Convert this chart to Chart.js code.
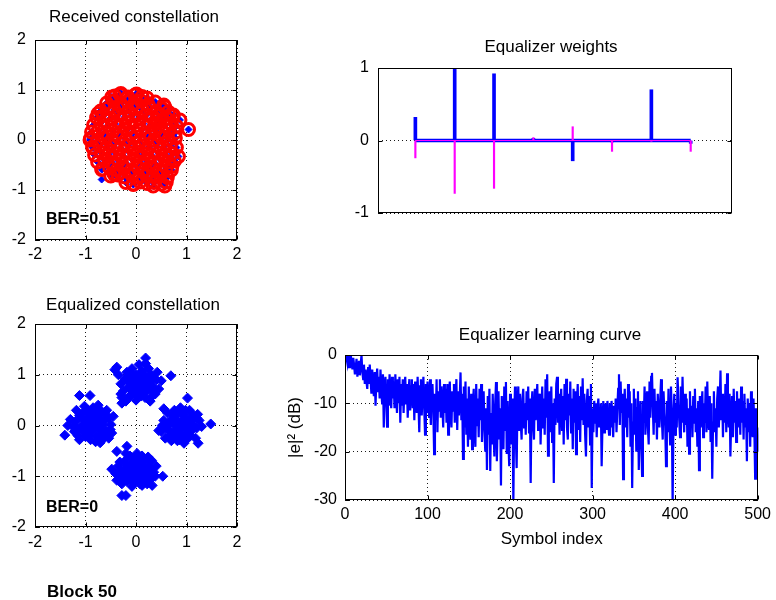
<!DOCTYPE html>
<html><head><meta charset="utf-8">
<script src="https://cdn.jsdelivr.net/npm/chart.js@4.4.1/dist/chart.umd.min.js"></script>
<style>html,body{margin:0;padding:0;background:#fff;}canvas{position:absolute;left:0;top:0;}</style>
</head><body>
<canvas id="c1" width="776" height="600"></canvas>
<canvas id="c2" width="776" height="600"></canvas>
<canvas id="c3" width="776" height="600"></canvas>
<canvas id="c4" width="776" height="600"></canvas>
<script>
// ---------------- DATA ----------------
const titleReceived = 'Received constellation';
const titleEqualized = 'Equalized constellation';
const titleWeights = 'Equalizer weights';
const titleCurve = 'Equalizer learning curve';
const berReceived = 'BER=0.51';
const berEqualized = 'BER=0';
const blockLabel = 'Block 50';
const xLabelCurve = 'Symbol index';
const yLabelCurve = '|e|\u00B2 (dB)';

const constTicks = [-2, -1, 0, 1, 2];
const weightTicks = [-1, 0, 1];
const curveXTicks = [0, 100, 200, 300, 400, 500];
const curveYTicks = [-30, -20, -10, 0];

// received symbols (inner blob), all marked as errors
const rxInner = [
[-0.42,0.88],[-0.3,0.93],[-0.16,0.86],[-0.02,0.9],[0.12,0.87],[0.22,0.84],
[-0.58,0.74],[-0.44,0.78],[-0.3,0.72],[-0.17,0.77],[-0.03,0.73],[0.1,0.78],[0.24,0.71],[0.38,0.76],[0.55,0.7],
[-0.7,0.58],[-0.57,0.63],[-0.43,0.6],[-0.29,0.65],[-0.15,0.58],[0.0,0.63],[0.13,0.6],[0.27,0.64],[0.4,0.57],[0.52,0.62],[0.64,0.56],
[-0.78,0.45],[-0.64,0.49],[-0.5,0.44],[-0.36,0.5],[-0.22,0.46],[-0.08,0.48],[0.06,0.44],[0.2,0.5],[0.33,0.45],[0.47,0.49],[0.6,0.44],[0.72,0.48],
[-0.84,0.3],[-0.7,0.34],[-0.56,0.29],[-0.42,0.33],[-0.28,0.3],[-0.14,0.35],[0.0,0.29],[0.14,0.33],[0.28,0.3],[0.43,0.34],[0.57,0.29],[0.7,0.33],[0.8,0.28],
[-0.88,0.16],[-0.74,0.19],[-0.6,0.14],[-0.46,0.18],[-0.32,0.15],[-0.18,0.2],[-0.04,0.16],[0.1,0.19],[0.24,0.14],[0.38,0.18],[0.52,0.15],[0.66,0.2],[0.78,0.15],
[-0.9,0.03],[-0.76,-0.01],[-0.62,0.04],[-0.48,0.0],[-0.34,0.05],[-0.2,0.01],[-0.06,0.04],[0.08,-0.01],[0.22,0.03],[0.36,0.0],[0.5,0.05],[0.64,0.01],[0.78,0.04],
[-0.86,-0.14],[-0.72,-0.11],[-0.58,-0.15],[-0.44,-0.12],[-0.3,-0.16],[-0.16,-0.11],[-0.02,-0.14],[0.12,-0.12],[0.26,-0.15],[0.4,-0.11],[0.54,-0.14],[0.68,-0.12],[0.8,-0.15],
[-0.82,-0.3],[-0.68,-0.26],[-0.54,-0.29],[-0.4,-0.27],[-0.26,-0.31],[-0.12,-0.26],[0.02,-0.29],[0.16,-0.27],[0.3,-0.3],[0.44,-0.26],[0.58,-0.29],[0.72,-0.27],
[-0.76,-0.44],[-0.62,-0.41],[-0.48,-0.45],[-0.34,-0.42],[-0.2,-0.46],[-0.06,-0.41],[0.08,-0.44],[0.22,-0.42],[0.36,-0.45],[0.5,-0.41],[0.64,-0.44],[0.76,-0.42],
[-0.66,-0.58],[-0.52,-0.56],[-0.38,-0.6],[-0.24,-0.57],[-0.1,-0.61],[0.04,-0.56],[0.18,-0.59],[0.32,-0.57],[0.46,-0.6],[0.6,-0.56],[0.7,-0.6],
[-0.5,-0.72],[-0.36,-0.7],[-0.22,-0.74],[-0.08,-0.71],[0.06,-0.75],[0.2,-0.7],[0.34,-0.73],[0.48,-0.71],[0.62,-0.75],
[-0.2,-0.85],[-0.06,-0.88],[0.08,-0.84],[0.22,-0.87],[0.36,-0.85],[0.5,-0.88],[0.6,-0.84]
];
// received symbols on the rim of the blob, marked as errors
const rxEdge = [
[1.04,0.21],[0.87,0.4],[0.74,0.5],[0.57,0.66],[-0.91,0.0],[-0.85,-0.16],[-0.68,-0.59],[-0.43,-0.69],
[0.34,-0.92],[0.57,-0.92],[-0.05,-0.89],[0.84,-0.33],[0.71,-0.53],[-0.48,0.86],[-0.75,0.53],[0.01,0.92],
[0.41,0.4],[0.38,0.2],[-0.32,0.91]
];
// received symbols without error mark
const rxCorrect = [[-0.68,-0.79]];

// equalized symbols, one list per cluster
const eqTop = [
[0.05,0.85],[-0.1,0.9],[0.15,0.78],[0.0,1.0],[0.2,0.95],[-0.15,0.75],[0.1,0.68],[-0.05,0.8],[0.28,0.85],[-0.22,0.92],
[0.12,1.08],[-0.08,1.12],[0.35,0.75],[0.3,1.0],[-0.25,0.68],[0.02,0.6],[0.18,0.55],[-0.12,0.58],[0.4,0.9],[-0.3,0.82],
[0.08,0.92],[-0.02,0.72],[0.22,0.7],[0.25,1.12],[-0.18,1.05],[0.45,0.72],[-0.35,1.0],[0.38,0.62],[0.06,1.2],[-0.28,0.55],
[0.14,0.82],[-0.06,0.97],[0.32,0.58],[0.19,1.22],[-0.38,1.15],[0.5,0.88],[-0.2,0.48],[0.0,0.5],[0.28,0.48],[0.1,0.74],
[-0.12,0.84],[0.2,0.88],[-0.03,0.66],[0.42,1.05],[-0.3,0.62],[0.35,0.95],[0.16,0.64],[0.08,1.02],[-0.15,0.98],[0.26,0.78],
[0.03,0.88],[0.12,0.95],[-0.08,0.7],[0.18,0.75],[-0.02,0.82],[0.24,0.92],[0.06,0.76],[-0.16,0.88],[0.3,0.7],[0.1,0.58],
[-0.1,1.04],[0.16,1.0],
[0.19,1.33],[0.69,0.98],[-0.42,1.1],[-0.28,0.44]
];
const eqLeft = [
[-0.88,0.04],[-1.0,0.1],[-0.75,-0.02],[-0.92,0.2],[-0.8,0.18],[-1.1,-0.05],[-0.65,0.1],[-0.95,-0.15],[-0.78,-0.2],[-1.05,0.25],
[-0.7,0.3],[-1.2,0.08],[-0.6,-0.1],[-0.85,0.35],[-1.15,-0.2],[-0.55,0.15],[-0.9,-0.28],[-1.25,-0.02],[-0.68,-0.25],[-1.02,0.38],
[-0.5,0.02],[-0.82,0.08],[-0.98,-0.05],[-0.72,0.12],[-1.08,0.15],[-0.62,-0.18],[-0.88,-0.12],[-1.3,0.12],[-0.75,0.4],[-1.12,-0.28],
[-0.58,0.3],[-0.95,0.3],[-0.48,-0.15],[-1.18,0.3],[-0.8,-0.32],[-0.66,0.02],[-1.0,-0.22],[-0.92,0.12],[-0.54,-0.25],[-1.22,-0.12],
[-0.85,0.25],[-0.7,-0.1],[-1.05,0.02],[-0.6,0.22],[-0.78,0.06],
[-0.9,0.0],[-0.82,-0.05],[-0.96,0.05],[-0.86,0.16],[-1.04,-0.12],[-0.74,0.2],[-0.92,-0.2],[-1.12,0.2],[-0.68,-0.16],[-0.62,0.12],
[-1.18,-0.04],[-0.8,0.28],
[-1.12,0.59],[-0.91,0.59],[-1.41,-0.19],[-0.45,0.18],[-0.51,-0.08],[-0.71,-0.34],[-0.65,-0.26],[-1.35,0.0]
];
const eqRight = [
[0.92,-0.02],[1.05,0.05],[0.8,0.1],[0.95,0.18],[1.1,-0.1],[0.75,-0.12],[0.88,-0.22],[1.0,-0.28],[0.68,0.05],[1.15,0.15],
[0.85,0.28],[1.2,-0.05],[0.6,-0.05],[0.98,0.3],[0.72,0.22],[1.08,-0.2],[0.82,-0.3],[0.55,0.1],[1.25,0.1],[0.65,-0.2],
[0.9,0.08],[1.02,-0.08],[0.78,0.0],[1.12,0.22],[0.7,-0.3],[0.95,-0.35],[0.5,-0.12],[1.18,-0.25],[0.88,0.35],[0.62,0.25],
[1.3,-0.02],[0.84,-0.12],[1.0,0.12],[0.74,-0.22],[1.06,0.3],[0.58,-0.25],[0.96,-0.18],[1.15,0.0],[0.8,0.2],[0.66,-0.1],
[1.22,0.22],[0.9,-0.25],[0.52,0.0],[1.04,-0.15],[0.76,0.3],
[0.9,0.02],[0.98,-0.05],[0.84,0.05],[1.06,0.12],[0.94,0.22],[0.78,-0.18],[1.12,-0.02],[0.7,0.12],[0.86,-0.28],[1.04,-0.22],
[0.62,0.0],[1.2,0.15],
[1.48,0.03],[1.23,-0.35],[1.02,0.54],[0.55,0.33],[0.45,-0.1]
];
const eqBottom = [
[-0.02,-0.9],[0.1,-0.85],[-0.15,-0.95],[0.05,-1.05],[-0.1,-0.78],[0.2,-0.98],[-0.25,-0.88],[0.15,-0.72],[-0.05,-0.65],[0.25,-0.85],
[-0.3,-1.02],[0.08,-1.15],[-0.18,-1.1],[0.3,-1.05],[0.0,-0.78],[-0.35,-0.8],[0.35,-0.92],[-0.12,-0.6],[0.12,-0.6],[-0.22,-0.7],
[0.22,-1.15],[-0.08,-1.2],[0.4,-0.8],[-0.4,-0.95],[0.05,-0.95],[-0.05,-1.0],[0.15,-1.05],[-0.28,-1.15],[0.28,-0.7],[-0.15,-0.85],
[0.18,-0.9],[-0.02,-1.12],[0.1,-0.75],[-0.32,-0.72],[0.38,-1.0],[-0.2,-0.55],[0.02,-0.55],[0.32,-1.18],[-0.12,-1.02],[0.25,-0.8],
[-0.38,-1.08],[0.08,-0.88],[-0.05,-0.72],[0.12,-1.18],[-0.25,-0.98],
[0.0,-0.85],[0.08,-0.95],[-0.08,-0.9],[0.14,-0.8],[-0.18,-0.78],[0.2,-1.1],[-0.1,-1.08],[0.3,-0.9],[-0.3,-0.9],[0.02,-0.68],
[-0.22,-1.05],[0.24,-0.62],
[0.53,-1.0],[-0.28,-1.38],[-0.2,-1.38],[-0.48,-0.86],[-0.38,-0.51],[-0.18,-0.41],[0.31,-0.69]
];

// equalizer taps
const tapIndex = [1, 2, 3, 4, 5, 6, 7, 8];
const weightReal = [0.32, 1.0, 0.92, 0.03, -0.28, -0.02, 0.70, -0.04];
const weightImag = [-0.24, -0.73, -0.66, 0.04, 0.19, -0.15, -0.01, -0.15];

// learning curve |e|^2 in dB, symbols 1..501
const errorDb = [
0,-0.8,-1.8,-0.2,-2.5,-1,0,-1.5,-3,-0.6,-2,-4,-2.5,-0.8,-4.5,-3,-1.2,-4.2,-2,0,
-3.5,-5,-2,-6,-3,-5.5,-7,-2.5,-6,-2,-5,-8,-3,-6.5,-8.5,-3.5,-10.5,-5,-2.8,-7.5,
-4.5,-9,-3,-7.5,-10,-4,-15,-6.5,-4.5,-9.5,-14.8,-5,-10.5,-4,-8,-11,-4.5,-9,-5.5,-11,
-4,-8.5,-12,-5,-10,-4.5,-14,-6,-10.5,-5,-12,-7,-4.5,-10,-6,-13,-7.5,-5,-11.5,-6.5,
-5,-11,-6,-13.5,-5.5,-9.5,-12,-4.5,-10,-16,-6.5,-5,-12.5,-7.5,-4.5,-11,-16.5,-6,-12,-5.5,
-10,-13,-5,-14.5,-7,-6,-11.5,-20.5,-8,-13.5,-5,-16,-7.5,-11.5,-5,-13,-6.5,-10.5,-15,-6,
-12,-7,-14,-6,-16.5,-8,-5.5,-12.5,-15,-7.5,-11.5,-6,-14,-8.5,-5,-15.5,-7.5,-12.5,-9,-3.6,
-13.5,-8,-21.5,-6.5,-15,-5.5,-16.5,-9,-19,-6.5,-13.5,-17.5,-8,-19.5,-10,-7,-16,-19,-6,-14.5,
-9,-17,-7,-13.5,-6,-18,-10,-7.5,-15.5,-20,-11,-23.8,-8.5,-16.5,-7,-24,-12,-18.5,-8,-15.5,
-21,-10,-5.6,-22,-14,-7.5,-17.5,-11,-27,-8.5,-16.5,-19.5,-6.5,-15.5,-5.6,-20.5,-9.5,-18,-23,-8,
-14.5,-18.5,-9,-31,-13,-6.5,-17,-23.4,-10,-6.5,-15.5,-8,-14,-17.5,-9,-7,-15,-10,-16.5,-7.5,
-13.5,-6.5,-16,-9,-26.5,-10.5,-7.5,-14.5,-17.5,-7,-13.5,-9.5,-6,-15.5,-10,-8,-18.5,-11.5,-6.5,-15,
-9,-16.5,-5,-13,-4,-20.8,-11,-7.5,-16,-6.5,-18,-10,-26.5,-9,-14.5,-6,-4.5,-14,-8,-16.5,
-10,-7,-15.5,-8.5,-18.5,-6,-13.5,-4.9,-15,-17.5,-8,-12.5,-5.5,-16,-9,-19.5,-7,-14,-7.5,-20.5,
-10.5,-6,-15.5,-8.5,-18,-6.5,-13.5,-4.8,-14.5,-8,-16.5,-21,-9.5,-7,-15,-8.5,-18.5,-6,-27.5,-11,
-16,-9.5,-14,-10,-17,-11,-9,-15,-11.5,-10,-23,-14.5,-9.5,-16,-11,-10,-15.5,-9.5,-14,-16.5,
-10,-15,-9.5,-13.5,-17,-10.5,-14,-9,-16,-11,-7,-4,-14.5,-5.5,-12,-8,-25.7,-11,-7,-15,
-9,-17,-6,-13,-7.5,-19,-10,-27.5,-14,-7,-16.5,-9,-20,-11,-7.5,-23.8,-15,-9.5,-18,-25,
-9.5,-14,-6.5,-16.5,-10,-7.5,-15,-18.5,-5.5,-13,-4.5,-3.7,-11,-16.5,-7,-14,-9.5,-17.5,-8,-13,
-15,-9,-5,-13.5,-17.5,-7.5,-12,-14.5,-23,-9.5,-16,-7,-13,-18.5,-6.5,-12,-31,-14,-8,-16.5,
-10,-15,-4.6,-9,-13.5,-17,-6.5,-14,-4.5,-12,-16,-8,-14.5,-9,-19,-11,-20.4,-7.5,-15,-10.5,
-17,-8.5,-14,-7,-16,-11,-19,-9.5,-23.8,-8.5,-15,-11,-7.5,-17,-10,-14,-6.5,-16,-5.5,-13,
-15.5,-8.5,-18,-10,-25.6,-14,-7.5,-16,-11,-19,-9,-6.5,-15,-10,-3.2,-13.5,-8,-17,-8.5,-14,
-6,-16,-3.8,-10,-15,-8,-21,-13.5,-8.5,-17,-7,-14,-9.5,-18,-7.5,-15,-11,-9,-16.5,-6.5,
-14,-9.5,-17.5,-8,-15,-11,-22,-9,-16,-10,-19,-7.5,-14.5,-17,-9,-15,-25.6,-11,-22,-15,-20
];

// ---------------- RENDERING ----------------
const FONT = "'Liberation Sans', Arial, Helvetica, sans-serif";
Chart.defaults.font.family = FONT;
Chart.defaults.font.size = 16;
Chart.defaults.color = '#000';
Chart.defaults.animation = false;
Chart.defaults.events = [];
Chart.defaults.plugins.legend.display = false;
Chart.defaults.plugins.tooltip.enabled = false;

const GRID = 'rgba(0,0,0,0.9)';
function axis(o) {
  return {
    type: 'linear', min: o.min, max: o.max, display: o.display !== false,
    afterBuildTicks(s) { if (o.ticks) s.ticks = o.ticks.map(v => ({ value: v })); },
    ticks: { padding: o.pad, autoSkip: false, maxRotation: 0, color: '#000', font: { size: 16 } },
    grid: { drawTicks: false, color: GRID, lineWidth: 1, display: o.grid !== false },
    border: { display: false, dash: [1, 3] },
    title: o.title || { display: false },
    afterFit(s) { if (o.h !== undefined) s.height = o.h; if (o.w !== undefined) s.width = o.w; }
  };
}

const framePlugin = {
  id: 'frame',
  afterDraw(chart, args, o) {
    const ctx = chart.ctx, a = chart.chartArea;
    ctx.save();
    ctx.strokeStyle = '#000'; ctx.lineWidth = 1;
    const L = Math.round(a.left) + 0.5, T = Math.round(a.top) + 0.5, R = Math.round(a.right) - 0.5, B = Math.round(a.bottom) - 0.5;
    ctx.strokeRect(L, T, R - L, B - T);
    const tl = 4;
    ctx.beginPath();
    if (o.xTicks) chart.scales.x.ticks.forEach(t => {
      const p = Math.round(chart.scales.x.getPixelForValue(t.value)) + 0.5;
      ctx.moveTo(p, B); ctx.lineTo(p, B - tl); ctx.moveTo(p, T); ctx.lineTo(p, T + tl);
    });
    if (o.yTicks) chart.scales.y.ticks.forEach(t => {
      const p = Math.round(chart.scales.y.getPixelForValue(t.value)) + 0.5;
      ctx.moveTo(L, p); ctx.lineTo(L + tl, p); ctx.moveTo(R, p); ctx.lineTo(R - tl, p);
    });
    ctx.stroke();
    (o.texts || []).forEach(t => {
      ctx.font = t.font; ctx.textAlign = t.align || 'center'; ctx.textBaseline = 'middle';
      ctx.fillStyle = '#000'; ctx.fillText(t.text, t.x, t.y);
    });
    ctx.restore();
  }
};

const toXY = arr => arr.map(p => ({ x: p[0], y: p[1] }));
const TITLE_FONT = '17px ' + FONT;
const BOLD_FONT = 'bold 16px ' + FONT;

function diamonds(data, r) {
  return { data: toXY(data), pointStyle: 'rectRot', pointRadius: r, backgroundColor: '#0000ff', borderColor: '#0000ff', borderWidth: 1, order: 2 };
}

// Chart 1: received constellation
new Chart(document.getElementById('c1'), {
  type: 'scatter',
  data: { datasets: [
    diamonds(rxInner.concat(rxEdge).concat(rxCorrect), 3.5),
    { data: toXY(rxInner.concat(rxEdge)), pointStyle: 'circle', pointRadius: 6, borderWidth: 3, borderColor: '#ff0000', backgroundColor: 'rgba(0,0,0,0)', order: 1 }
  ]},
  options: {
    responsive: false, devicePixelRatio: 1,
    layout: { autoPadding: false, padding: { left: 0, top: 40, right: 539, bottom: 330 } },
    scales: { x: axis({ min: -2, max: 2, ticks: constTicks, pad: 5, h: 30 }), y: axis({ min: -2, max: 2, ticks: constTicks, pad: 9, w: 35 }) },
    plugins: { frame: { xTicks: true, yTicks: true, texts: [
      { text: titleReceived, x: 134, y: 17, font: TITLE_FONT },
      { text: berReceived, x: 46, y: 220, font: BOLD_FONT, align: 'left' }
    ]}}
  },
  plugins: [framePlugin]
});

// Chart 2: equalizer weights
const stemReal = tapIndex.map((t, i) => ({ x: t, y: weightReal[i] }));
const stemImag = tapIndex.map((t, i) => ({ x: t, y: weightImag[i] }));
const baseLine = [{ x: tapIndex[0], y: 0 }, { x: tapIndex[tapIndex.length - 1], y: 0 }];
new Chart(document.getElementById('c2'), {
  type: 'bar',
  data: { datasets: [
    { type: 'bar', data: stemReal, backgroundColor: '#0000ff', barThickness: 3, grouped: false, order: 4 },
    { type: 'line', data: baseLine, borderColor: '#0000ff', borderWidth: 3.5, pointRadius: 0, order: 3 },
    { type: 'bar', data: stemImag, backgroundColor: '#ff00ff', barThickness: 1.5, grouped: false, order: 2 },
    { type: 'line', data: baseLine, borderColor: '#ff00ff', borderWidth: 1.2, pointRadius: 0, order: 1 }
  ]},
  options: {
    responsive: false, devicePixelRatio: 1,
    layout: { autoPadding: false, padding: { left: 318, top: 68, right: 44, bottom: 387 } },
    scales: {
      x: Object.assign(axis({ min: 0.05, max: 9.05, display: false }), { offset: false }),
      y: axis({ min: -1, max: 1, ticks: weightTicks, pad: 9, w: 60 })
    },
    plugins: { frame: { xTicks: false, yTicks: true, texts: [
      { text: titleWeights, x: 551, y: 47, font: TITLE_FONT }
    ]}}
  },
  plugins: [framePlugin]
});

// Chart 3: equalized constellation
new Chart(document.getElementById('c3'), {
  type: 'scatter',
  data: { datasets: [ diamonds(eqTop.concat(eqLeft, eqRight, eqBottom), 5) ] },
  options: {
    responsive: false, devicePixelRatio: 1,
    layout: { autoPadding: false, padding: { left: 0, top: 324, right: 539, bottom: 43 } },
    scales: { x: axis({ min: -2, max: 2, ticks: constTicks, pad: 6, h: 30 }), y: axis({ min: -2, max: 2, ticks: constTicks, pad: 9, w: 35 }) },
    plugins: { frame: { xTicks: true, yTicks: true, texts: [
      { text: titleEqualized, x: 133, y: 305, font: TITLE_FONT },
      { text: berEqualized, x: 46, y: 508, font: BOLD_FONT, align: 'left' },
      { text: blockLabel, x: 47, y: 592, font: 'bold 17px ' + FONT, align: 'left' }
    ]}}
  },
  plugins: [framePlugin]
});

// Chart 4: learning curve
new Chart(document.getElementById('c4'), {
  type: 'line',
  data: { datasets: [ { data: errorDb.map((v, i) => ({ x: i + 1, y: v })), borderColor: '#0000ff', borderWidth: 2.2, pointRadius: 0, tension: 0 } ] },
  options: {
    responsive: false, devicePixelRatio: 1,
    layout: { autoPadding: false, padding: { left: 285, top: 355, right: 13, bottom: 50 } },
    scales: {
      x: axis({ min: 0, max: 501, ticks: curveXTicks, pad: 5, h: 50,
        title: { display: true, text: xLabelCurve, padding: { top: 0, bottom: 0 }, font: { size: 17 }, color: '#000' } }),
      y: axis({ min: -30, max: 0, ticks: curveYTicks, pad: 8, w: 60,
        title: { display: true, text: yLabelCurve, padding: { top: 0, bottom: 0 }, font: { size: 17 }, color: '#000' } })
    },
    plugins: { frame: { xTicks: true, yTicks: true, texts: [
      { text: titleCurve, x: 550, y: 335, font: TITLE_FONT }
    ]}}
  },
  plugins: [framePlugin]
});
</script>
</body></html>
